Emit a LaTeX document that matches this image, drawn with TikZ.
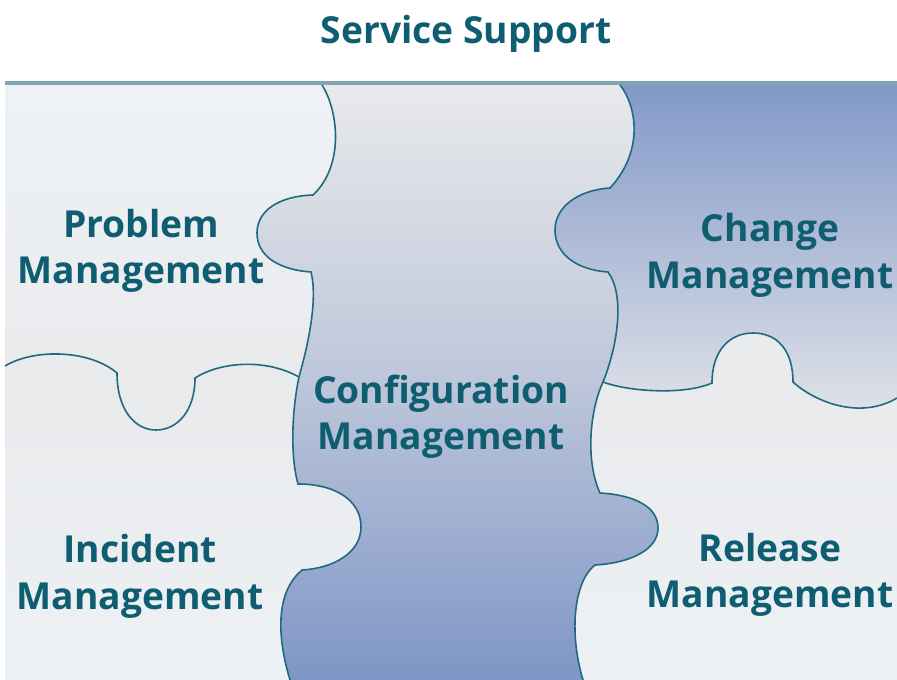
\documentclass[tikz,border=0pt]{standalone}
\usepackage{fontspec}
\setmainfont{Open Sans}
\definecolor{inkteal}{HTML}{0F5D71}
\definecolor{seam}{HTML}{1F6A80}
\definecolor{rule}{HTML}{7FA5B3}
\definecolor{paleA}{HTML}{EEF2F6}
\definecolor{paleB}{HTML}{E9EAEC}
\definecolor{paleC}{HTML}{EDF1F5}
\definecolor{cfgTop}{HTML}{E8E9EB}
\definecolor{cfgMid}{HTML}{BDC6DA}
\definecolor{cfgBot}{HTML}{7E96C6}
\definecolor{chgTop}{HTML}{8299C8}
\definecolor{chgBot}{HTML}{E1E3E9}

% Seams between the puzzle pieces (units are pixels, y grows downwards)
\def\seamLeft{(322,85) .. controls (338,110) and (345,165) .. (313,195)
  .. controls (280,196) and (257,210) .. (257,233)
  .. controls (257,258) and (282,270) .. (311,272)
  .. controls (318,300) and (308,345) .. (299,377)
  .. controls (292,410) and (290,455) .. (298,484)
  .. controls (335,484) and (361,500) .. (361,527)
  .. controls (361,552) and (335,568) .. (302,570)
  .. controls (278,590) and (275,630) .. (290,680)}
\def\seamRightUp{(620,85) .. controls (636,105) and (645,150) .. (610,188)
  .. controls (578,190) and (555,207) .. (555,230)
  .. controls (555,255) and (578,270) .. (608,272)
  .. controls (625,295) and (618,345) .. (603,382)}
\def\seamRightLow{.. controls (590,410) and (585,460) .. (600,493)
  .. controls (635,495) and (658,507) .. (658,528)
  .. controls (658,550) and (630,563) .. (595,565)
  .. controls (575,580) and (568,630) .. (583,680)}
\def\seamWest{(5,366) .. controls (35,348) and (90,350) .. (117,373)
  .. controls (117,410) and (135,430) .. (156,430)
  .. controls (178,430) and (195,410) .. (195,378)
  .. controls (220,362) and (265,358) .. (299,377)}
\def\seamEast{.. controls (630,392) and (685,395) .. (712,383)
  .. controls (712,350) and (730,333) .. (753,333)
  .. controls (777,333) and (793,350) .. (793,382)
  .. controls (815,402) and (860,420) .. (897,398)}

\begin{document}
\begin{tikzpicture}[x=1pt,y=-1pt,
  pale/.style={top color=paleA,bottom color=paleC,middle color=paleB},
  cfgfill/.style={top color=cfgTop,bottom color=cfgBot,middle color=cfgMid},
  chgfill/.style={top color=chgTop,bottom color=chgBot},
  seamline/.style={draw=seam,line width=1.6pt},
  piece/.style={text=inkteal,font=\bfseries\fontsize{37.2}{46.5}\selectfont,align=center,inner sep=0pt},
  heading/.style={text=inkteal,font=\bfseries\fontsize{37.2}{46.5}\selectfont,inner sep=0pt}]
\useasboundingbox (0,0) rectangle (897,680);
\fill[white] (0,0) rectangle (897,680);

% pieces
\fill[pale] (5,85) rectangle (897,680);
\fill[cfgfill] \seamLeft -- (897,680) -- (897,85) -- cycle;
\fill[pale] \seamRightUp \seamRightLow -- (897,680) -- (897,85) -- cycle;
\fill[chgfill] \seamRightUp \seamEast -- (897,85) -- cycle;

% seams
\draw[seamline] \seamLeft;
\draw[seamline] \seamRightUp \seamRightLow;
\draw[seamline] \seamWest;
\draw[seamline] (603,382) \seamEast;

% top rule
\draw[draw=rule,line width=3.5pt] (5,83) -- (897,83);

% labels
\node[heading,anchor=base] (title) at (466,43) {Service Support};
\node[piece] (problem) at (141,251) {Problem\\Management};
\node[piece] (config) at (441,416.5) {Configuration\\Management};
\node[piece] (change) at (770,255.5) {Change\\Management};
\node[piece] (incident) at (140,576.5) {Incident\\Management};
\node[piece] (release) at (770,575) {Release\\Management};
\end{tikzpicture}
\end{document}
